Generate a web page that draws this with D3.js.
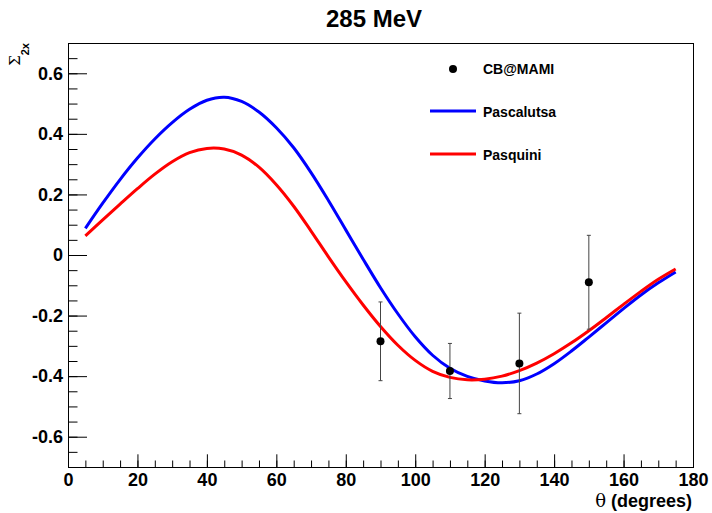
<!DOCTYPE html>
<meta charset="utf-8">
<style>
  body { margin: 0; background: #fff; }
  svg { font-family: "Liberation Sans", Arial, sans-serif; }
  .axis text { font-size: 18px; font-weight: bold; fill: #000; }
  .axis path, .axis line { stroke: #000; }
</style>
<svg width="712" height="513"></svg>
<script src="https://d3js.org/d3.v7.min.js"></script>
<script>
// data
var title = "285 MeV";
var seriesNames = ["CB@MAMI", "Pascalutsa", "Pasquini"];

// CB@MAMI measurements
var dataTheta = [90, 110, 130, 150];
var dataSigma = [-0.285, -0.383, -0.358, -0.090];
var dataErr   = [0.130, 0.091, 0.166, 0.155];

// model curves, sampled every 5 degrees
var curveTheta = [5, 10, 15, 20, 25, 30, 35, 40, 45, 50, 55, 60, 65, 70, 75, 80, 85, 90,
                  95, 100, 105, 110, 115, 120, 125, 130, 135, 140, 145, 150, 155, 160, 165, 170, 175];
var pascalutsa = [0.088, 0.171, 0.249, 0.320, 0.383, 0.437, 0.481, 0.511, 0.521, 0.507, 0.472, 0.420, 0.354, 0.272, 0.180, 0.083, -0.014, -0.108,
                  -0.194, -0.270, -0.331, -0.374, -0.401, -0.416, -0.422, -0.415, -0.393, -0.359, -0.317, -0.271, -0.224, -0.177, -0.132, -0.092, -0.056];
var pasquini   = [0.063, 0.116, 0.168, 0.219, 0.267, 0.308, 0.338, 0.352, 0.350, 0.330, 0.290, 0.232, 0.161, 0.079, -0.006, -0.088, -0.165, -0.236,
                  -0.298, -0.348, -0.384, -0.404, -0.412, -0.410, -0.400, -0.382, -0.357, -0.326, -0.290, -0.250, -0.207, -0.163, -0.120, -0.080, -0.046];

var xTicks = [0, 20, 40, 60, 80, 100, 120, 140, 160, 180];
var yTicks = [-0.6, -0.4, -0.2, 0, 0.2, 0.4, 0.6];

var svg = d3.select("svg"),
    margin = {top: 43, right: 19, bottom: 46, left: 68},
    W = +svg.attr("width"), H = +svg.attr("height");

var x = d3.scaleLinear().domain([0, 180]).range([margin.left, W - margin.right]),
    y = d3.scaleLinear().domain([-0.7, 0.7]).range([H - margin.bottom, margin.top]);

var fmt = function(d) { return d === 0 ? "0" : d.toFixed(1); };

// minor ticks
svg.append("g")
    .attr("class", "axis")
    .attr("transform", "translate(" + margin.left + ",0)")
    .call(d3.axisLeft(y).tickValues(d3.range(-0.65, 0.7, 0.05)).tickSize(-9.5).tickFormat(""))
    .call(function(g) { g.select(".domain").remove(); });
svg.append("g")
    .attr("class", "axis")
    .attr("transform", "translate(0," + (H - margin.bottom) + ")")
    .call(d3.axisBottom(x).tickValues(d3.range(5, 180, 5)).tickSize(-6.5).tickFormat(""))
    .call(function(g) { g.select(".domain").remove(); });

// major ticks + labels
svg.append("g")
    .attr("class", "axis")
    .attr("transform", "translate(" + margin.left + ",0)")
    .call(d3.axisLeft(y).tickValues(yTicks).tickSize(-19).tickPadding(5).tickFormat(fmt))
    .call(function(g) { g.select(".domain").remove(); });
svg.append("g")
    .attr("class", "axis")
    .attr("transform", "translate(0," + (H - margin.bottom) + ")")
    .call(d3.axisBottom(x).tickValues(xTicks).tickSize(-12.7).tickPadding(6.5).tickFormat(d3.format("d")))
    .call(function(g) { g.select(".domain").remove(); });

// frame
svg.append("rect")
    .attr("x", margin.left + 0.5).attr("y", margin.top + 0.5)
    .attr("width", W - margin.right - margin.left)
    .attr("height", H - margin.bottom - margin.top)
    .attr("fill", "none").attr("stroke", "#000");

// curves
var line = d3.line()
    .x(function(d) { return x(d[0]); })
    .y(function(d) { return y(d[1]); })
    .curve(d3.curveCatmullRom);

svg.append("path")
    .datum(d3.zip(curveTheta, pascalutsa))
    .attr("fill", "none").attr("stroke", "#0000ff").attr("stroke-width", 3)
    .attr("d", line);
svg.append("path")
    .datum(d3.zip(curveTheta, pasquini))
    .attr("fill", "none").attr("stroke", "#ff0000").attr("stroke-width", 3)
    .attr("d", line);

// data points with error bars
var pts = svg.append("g").selectAll("g")
    .data(d3.range(dataTheta.length))
    .enter().append("g");
pts.append("line")
    .attr("x1", function(i) { return x(dataTheta[i]); })
    .attr("x2", function(i) { return x(dataTheta[i]); })
    .attr("y1", function(i) { return y(dataSigma[i] + dataErr[i]); })
    .attr("y2", function(i) { return y(dataSigma[i] - dataErr[i]); })
    .attr("stroke", "#444");
[1, -1].forEach(function(s) {
  pts.append("line")
      .attr("x1", function(i) { return x(dataTheta[i]) - 2; })
      .attr("x2", function(i) { return x(dataTheta[i]) + 2; })
      .attr("y1", function(i) { return y(dataSigma[i] + s * dataErr[i]); })
      .attr("y2", function(i) { return y(dataSigma[i] + s * dataErr[i]); })
      .attr("stroke", "#444");
});
pts.append("circle")
    .attr("cx", function(i) { return x(dataTheta[i]); })
    .attr("cy", function(i) { return y(dataSigma[i]); })
    .attr("r", 4).attr("fill", "#000");

// legend
var leg = svg.append("g").attr("font-size", 14).attr("font-weight", "bold");
leg.append("circle").attr("cx", 453).attr("cy", 69).attr("r", 4).attr("fill", "#000");
leg.append("line").attr("x1", 430).attr("x2", 476).attr("y1", 111).attr("y2", 111)
    .attr("stroke", "#0000ff").attr("stroke-width", 3);
leg.append("line").attr("x1", 430).attr("x2", 476).attr("y1", 154).attr("y2", 154)
    .attr("stroke", "#ff0000").attr("stroke-width", 3);
leg.selectAll("text").data(seriesNames).enter().append("text")
    .attr("x", 483)
    .attr("y", function(d, i) { return 74 + i * 43; })
    .text(function(d) { return d; });

// title
svg.append("text")
    .attr("x", 374).attr("y", 27)
    .attr("text-anchor", "middle")
    .attr("font-size", 24).attr("font-weight", "bold")
    .text(title);

// x title
var xt = svg.append("text")
    .attr("x", 692).attr("y", 507)
    .attr("text-anchor", "end")
    .attr("font-size", 18);
xt.append("tspan").attr("font-family", "DejaVu Serif, serif").text("\u03b8");
xt.append("tspan").attr("font-weight", "bold").text(" (degrees)");

// y title
var yt = svg.append("text")
    .attr("transform", "translate(20," + margin.top + ") rotate(-90)")
    .attr("text-anchor", "end");
yt.append("tspan").attr("font-family", "DejaVu Serif, serif").attr("font-size", 15).text("\u03a3");
yt.append("tspan").attr("font-size", 11).attr("font-weight", "bold").attr("dy", 9).text("2x");
</script>
